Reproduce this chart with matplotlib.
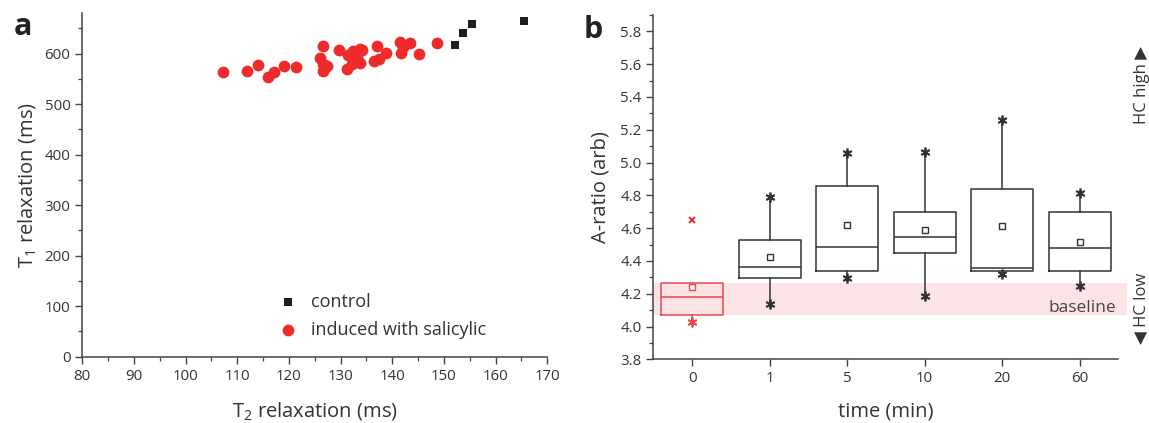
import numpy as np
import matplotlib
matplotlib.use("Agg")
from matplotlib import pyplot as plt
from matplotlib.ticker import MultipleLocator, FormatStrFormatter

plt.rcParams['font.family'] = ['Open Sans', 'DejaVu Sans']
plt.rcParams['mathtext.default'] = 'regular'

# ---------- panel a: T2 vs T1 ----------
control_t2 = [152.1, 153.7, 155.4, 165.4]
control_t1 = [617, 641, 659, 665]

induced_t2 = [107.3, 111.9, 114.1, 115.9, 117.2, 119.0, 121.3, 126.6, 126.0, 126.5,
              127.3, 126.6, 129.7, 131.5, 131.2, 132.4, 133.1, 133.7, 134.1, 133.7,
              132.3, 137.0, 136.5, 137.5, 138.8, 141.4, 143.4, 141.6, 142.0, 145.2,
              148.7]
induced_t1 = [563, 565, 578, 553, 563, 575, 574, 615, 591, 580,
              575, 566, 608, 598, 570, 605, 593, 610, 608, 581,
              580, 615, 586, 590, 602, 624, 622, 601, 613, 600,
              622]

# ---------- panel b: A-ratio box stats ----------
times = ['0', '1', '5', '10', '20', '60']
q1 = [4.069, 4.298, 4.337, 4.447, 4.337, 4.337]
q3 = [4.264, 4.528, 4.858, 4.699, 4.838, 4.699]
median = [4.178, 4.365, 4.487, 4.549, 4.359, 4.478]
mean = [4.240, 4.423, 4.622, 4.588, 4.614, 4.518]
low_end = [4.028, 4.138, 4.298, 4.188, 4.319, 4.247]
high_end = [4.264, 4.787, 5.058, 5.067, 5.257, 4.817]
outlier_0 = 4.65
baseline_lo, baseline_hi = 4.07, 4.265

axis_col = '#444444'
text_col = '#333333'
red = '#ee2a2a'
box_red = '#e8474a'

fig = plt.figure(figsize=(11.49, 4.23), dpi=100)

# ---------- panel a ----------
ax1 = fig.add_axes([0.0716, 0.1567, 0.4047, 0.8119])
ax1.scatter(control_t2, control_t1, marker='s', s=34, color='#1e1e1e',
            label='control', zorder=3, linewidths=0)
ax1.scatter(induced_t2, induced_t1, marker='o', s=72, color=red,
            label='induced with salicylic', zorder=3, linewidths=0)
ax1.set_xlim(80, 170)
ax1.set_ylim(0, 680)
ax1.xaxis.set_major_locator(MultipleLocator(10))
ax1.xaxis.set_minor_locator(MultipleLocator(5))
ax1.yaxis.set_major_locator(MultipleLocator(100))
ax1.yaxis.set_minor_locator(MultipleLocator(50))
ax1.set_xlabel('T$_2$ relaxation (ms)', fontsize=14.5, color=text_col, labelpad=12)
ax1.set_ylabel('T$_1$ relaxation (ms)', fontsize=14.5, color=text_col, labelpad=5)
ax1.legend(loc='lower left', bbox_to_anchor=(0.369, 0.004), frameon=False,
           fontsize=13, handletextpad=0.25, labelspacing=0.55, scatterpoints=1,
           labelcolor=text_col)

# ---------- panel b ----------
ax2 = fig.add_axes([0.5686, 0.1506, 0.4047, 0.8139])
pos = np.arange(len(times))
stats = []
for i in range(len(times)):
    stats.append(dict(q1=q1[i], q3=q3[i], med=median[i], mean=mean[i],
                      whislo=low_end[i], whishi=high_end[i], fliers=[]))

ax2.axhspan(baseline_lo, baseline_hi, xmin=0, xmax=1.018, color='#fce4e6',
            zorder=0, clip_on=False, lw=0)

for i in range(len(times)):
    col = box_red if i == 0 else '#333333'
    ax2.bxp([stats[i]], positions=[pos[i]], widths=0.8, showcaps=False,
            showmeans=True, showfliers=False, patch_artist=False,
            boxprops=dict(color=col, lw=1.1),
            whiskerprops=dict(color=col, lw=1.1),
            medianprops=dict(color=col, lw=1.1),
            meanprops=dict(marker='s', markersize=4.5, markerfacecolor='white',
                           markeredgecolor=col, markeredgewidth=1.0))
    ax2.plot(pos[i], low_end[i], marker=(6, 2, 0), color=col, markersize=7,
             mew=1.3, zorder=4)
    if high_end[i] > q3[i]:
        ax2.plot(pos[i], high_end[i], marker=(6, 2, 0), color=col, markersize=7,
                 mew=1.3, zorder=4)

ax2.plot(pos[0], outlier_0, marker='x', color=red, markersize=4.5, mew=1.4, zorder=4)

ax2.set_xlim(-0.5, 5.5)
ax2.set_ylim(3.8, 5.9)
ax2.set_xticks(pos)
ax2.set_xticklabels(times)
ax2.yaxis.set_major_locator(MultipleLocator(0.2))
ax2.yaxis.set_minor_locator(MultipleLocator(0.1))
ax2.yaxis.set_major_formatter(FormatStrFormatter('%.1f'))
ax2.set_xlabel('time (min)', fontsize=14.5, color=text_col, labelpad=11)
ax2.set_ylabel('A-ratio (arb)', fontsize=14.5, color=text_col, labelpad=7)
ax2.text(5.47, 4.11, 'baseline', ha='right', va='center', fontsize=12.5,
         color='#4f4040')

# panel letters
fig.text(0.012, 1 - 12 / 423, 'a', fontsize=22, fontweight='bold',
         va='top', ha='left', color='#222222')
fig.text(0.508, 1 - 15 / 423, 'b', fontsize=22, fontweight='bold',
         va='top', ha='left', color='#222222')

fig.text(0.9935, 0.80, 'HC high \u25B6', rotation=90, ha='center', va='center',
         fontsize=12, color=text_col)
fig.text(0.9935, 0.272, '\u25C0 HC low', rotation=90, ha='center', va='center',
         fontsize=12, color=text_col)

for ax in (ax1, ax2):
    ax.spines['top'].set_visible(False)
    ax.spines['right'].set_visible(False)
    for s in ('left', 'bottom'):
        ax.spines[s].set_color(axis_col)
        ax.spines[s].set_linewidth(1.1)
    ax.tick_params(which='major', direction='out', length=5, width=1.0,
                   color=axis_col, labelsize=10.8, labelcolor=text_col)
    ax.tick_params(which='minor', direction='out', length=3, width=0.9,
                   color=axis_col)
ax2.tick_params(axis='x', which='minor', length=0)

fig.savefig('out.png', dpi=100)
